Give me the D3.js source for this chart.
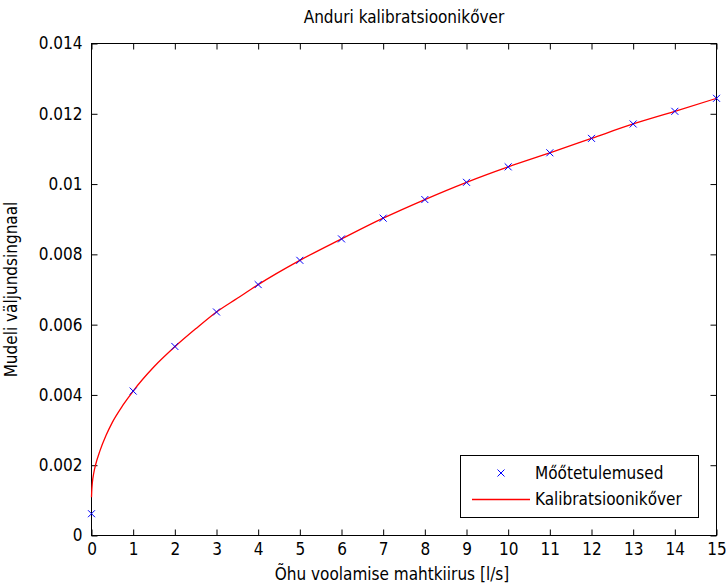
<!DOCTYPE html>
<html>
<head>
<meta charset="utf-8">
<script src="https://cdn.jsdelivr.net/npm/d3@7"></script>
<style>
    body { margin: 0; background: #fff; }
    svg { display: block; }
    text { font-family: "DejaVu Sans Condensed", "DejaVu Sans", sans-serif; font-stretch: condensed; fill: #000; }
</style>
</head>
<body>
<div id="chart"></div>
<script>
// mõõtepunktid
var measX = [0, 1, 2, 3, 4, 5, 6, 7, 8, 9, 10, 11, 12, 13, 14, 15];
var measY = [0.00062, 0.00411, 0.00538, 0.00636, 0.00714, 0.00783, 0.00844, 0.00903,
    0.00956, 0.01005, 0.01049, 0.01089, 0.01130, 0.01171, 0.01207, 0.01244];

// kalibratsioonikõver (loetud pildilt)
var curveX = [0, 0.005, 0.02, 0.05, 0.1, 0.2, 0.35, 0.5, 0.75, 1, 1.5, 2, 2.5, 3, 3.5, 4,
    5, 6, 7, 8, 9, 10, 11, 12, 13, 14, 15];
var curveY = [0.00109, 0.00125, 0.00150, 0.00175, 0.00202, 0.00240, 0.00285, 0.00322, 0.00370,
    0.00411, 0.00480, 0.00537, 0.00588, 0.00636, 0.00675, 0.00714, 0.00783, 0.00844, 0.00903,
    0.00956, 0.01005, 0.01049, 0.01089, 0.01130, 0.01171, 0.01207, 0.01244];

var xTicks = [0, 1, 2, 3, 4, 5, 6, 7, 8, 9, 10, 11, 12, 13, 14, 15];
var yTicks = [0, 0.002, 0.004, 0.006, 0.008, 0.01, 0.012, 0.014];

var titleText = "Anduri kalibratsioonikőver";
var xTitle = "Õhu voolamise mahtkiirus [l/s]";
var yTitle = "Mudeli väljundsingnaal";
var legendNames = ["Mőőtetulemused", "Kalibratsioonikőver"];

var W = 726, H = 584;
var area = {left: 91.5, top: 43.5, right: 716.5, bottom: 535.5};
var fontSize = 17;

var svg = d3.select("#chart").append("svg")
    .attr("xmlns", "http://www.w3.org/2000/svg")
    .attr("width", W).attr("height", H);

var xScale = d3.scaleLinear().domain([0, 15]).range([area.left, area.right]);
var yScale = d3.scaleLinear().domain([0, 0.014]).range([area.bottom, area.top]);

var yFmt = function(d) { return String(+d.toFixed(3)); };

// teljed, kriipsud sissepoole
function styleAxis(g) {
    g.selectAll(".domain").remove();
    g.selectAll(".tick line").attr("stroke", "#000");
    g.selectAll(".tick text").style("font-size", fontSize + "px").attr("fill", "#000");
}
svg.append("g").attr("transform", "translate(0," + area.bottom + ")")
    .call(d3.axisBottom(xScale).tickValues(xTicks).tickSizeInner(-6).tickSizeOuter(0).tickPadding(7))
    .call(styleAxis);
svg.append("g").attr("transform", "translate(0," + area.top + ")")
    .call(d3.axisTop(xScale).tickValues(xTicks).tickSizeInner(-6).tickSizeOuter(0).tickFormat(""))
    .call(styleAxis);
svg.append("g").attr("transform", "translate(" + area.left + ",0)")
    .call(d3.axisLeft(yScale).tickValues(yTicks).tickSizeInner(-6).tickSizeOuter(0).tickPadding(9).tickFormat(yFmt))
    .call(styleAxis);
svg.append("g").attr("transform", "translate(" + area.right + ",0)")
    .call(d3.axisRight(yScale).tickValues(yTicks).tickSizeInner(-6).tickSizeOuter(0).tickFormat(""))
    .call(styleAxis);

svg.append("rect")
    .attr("x", area.left).attr("y", area.top)
    .attr("width", area.right - area.left).attr("height", area.bottom - area.top)
    .attr("fill", "none").attr("stroke", "#000");

// kõver
var line = d3.line()
    .x(function(d, i) { return xScale(curveX[i]); })
    .y(function(d) { return yScale(d); })
    .curve(d3.curveMonotoneX);
svg.append("path")
    .datum(curveY)
    .attr("d", line)
    .attr("fill", "none")
    .attr("stroke", "#ff0000")
    .attr("stroke-width", 1.3);

// x-markerid
function cross(g, cx, cy, s) {
    g.append("path")
        .attr("d", "M" + (cx - s) + "," + (cy - s) + "L" + (cx + s) + "," + (cy + s) +
            "M" + (cx - s) + "," + (cy + s) + "L" + (cx + s) + "," + (cy - s))
        .attr("stroke", "#0000ff")
        .attr("stroke-width", 1)
        .attr("fill", "none");
}
var markers = svg.append("g").attr("class", "markers");
measY.forEach(function(v, i) {
    cross(markers, xScale(measX[i]), yScale(v), 3.5);
});

// pealkirjad
svg.append("text")
    .attr("x", 404).attr("y", 23)
    .attr("text-anchor", "middle")
    .style("font-size", fontSize + "px")
    .text(titleText);
svg.append("text")
    .attr("x", 392).attr("y", 580)
    .attr("text-anchor", "middle")
    .style("font-size", fontSize + "px")
    .text(xTitle);
svg.append("text")
    .attr("transform", "translate(17," + ((area.top + area.bottom) / 2) + ") rotate(-90)")
    .attr("text-anchor", "middle")
    .style("font-size", fontSize + "px")
    .text(yTitle);

// legend
var lg = svg.append("g").attr("class", "legend");
lg.append("rect")
    .attr("x", 460.5).attr("y", 455.5).attr("width", 238).attr("height", 62)
    .attr("fill", "#fff").attr("stroke", "#000");
cross(lg, 501, 473, 3.5);
lg.append("line")
    .attr("x1", 472).attr("x2", 530).attr("y1", 499.5).attr("y2", 499.5)
    .attr("stroke", "#ff0000").attr("stroke-width", 1.3);
legendNames.forEach(function(n, i) {
    lg.append("text")
        .attr("x", 535).attr("y", 473 + i * 26)
        .attr("dy", "0.36em")
        .style("font-size", fontSize + "px")
        .text(n);
});
</script>
</body>
</html>
